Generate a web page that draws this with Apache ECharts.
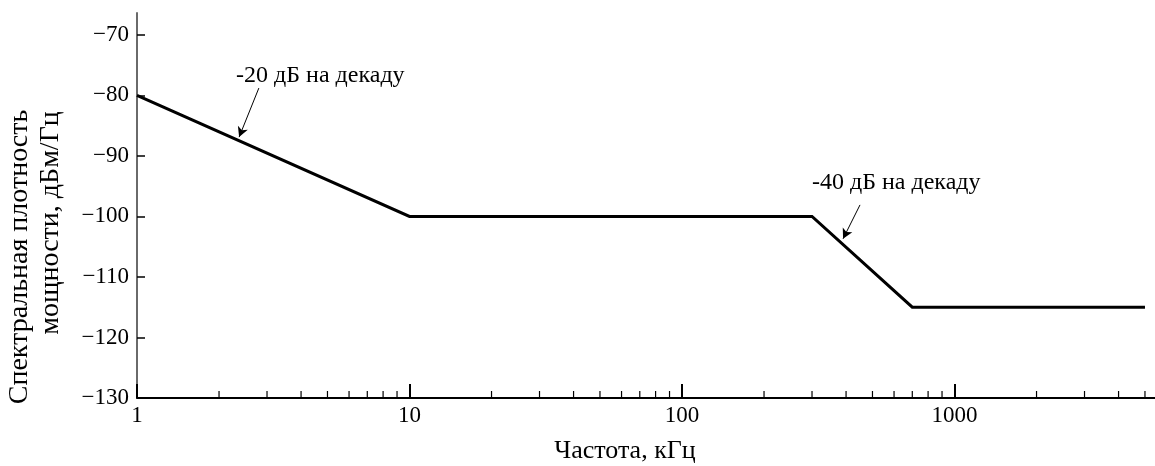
<!DOCTYPE html>
<html>
<head>
<meta charset="utf-8">
<script src="https://cdn.jsdelivr.net/npm/echarts@6/dist/echarts.min.js"></script>
<style>
  html, body { margin: 0; padding: 0; background: #fff; }
  #chart { width: 1155px; height: 466px; }
</style>
</head>
<body>
<div id="chart"></div>
<script>
// Piecewise spectral density: frequency (kHz) vs PSD (dBm/Hz)
const freq = [1, 10, 300, 700, 5000];
const psd = [-80, -100, -100, -115, -115];

// Axis ranges and labelled ticks
const yMin = -130;
const yMax = -66.4;
const yTicks = [-130, -120, -110, -100, -90, -80, -70];
const xMin = 1;
const xMax = 10000;

// Intermediate log ticks (2..9 within each decade)
const minorTicks = [
  2, 3, 4, 5, 6, 7, 8, 9,
  20, 30, 40, 50, 60, 70, 80, 90,
  200, 300, 400, 500, 600, 700, 800, 900,
  2000, 3000, 4000, 5000
];

// Slope annotations: text anchor and arrow (from -> to) in data units
const slopeNotes = [
  { text: '-20 дБ на декаду', at: [2.31, -76.8], from: [2.80, -78.8], to: [2.37, -86.9] },
  { text: '-40 дБ на декаду', at: [300, -94.5], from: [450, -98.1], to: [390, -103.7] }
];

const serif = '"Liberation Serif", "DejaVu Serif", serif';
const chart = echarts.init(document.getElementById('chart'));

const linePoints = freq.map((f, i) => [f, psd[i]]);

chart.setOption({
  animation: false,
  backgroundColor: '#fff',
  grid: { left: 137, top: 13, bottom: 68, right: -72, containLabel: false, outerBoundsMode: 'none' },
  xAxis: {
    type: 'log',
    logBase: 10,
    min: xMin,
    max: xMax,
    axisLine: { show: true, onZero: false, lineStyle: { color: '#000', width: 2 } },
    axisTick: { show: true, inside: true, length: 14, lineStyle: { color: '#000', width: 2 } },
    axisLabel: {
      color: '#000', fontFamily: serif, fontSize: 23, margin: 6,
      formatter: v => String(v)
    },
    splitLine: { show: false }
  },
  yAxis: {
    type: 'value',
    min: yMin,
    max: yMax,
    axisLine: { show: true, lineStyle: { color: '#6a6a6a', width: 2 } },
    axisTick: { show: true, inside: true, length: 8, customValues: yTicks, lineStyle: { color: '#000', width: 1.5 } },
    axisLabel: {
      color: '#000', fontFamily: serif, fontSize: 23, margin: 8,
      customValues: yTicks,
      formatter: v => (v < 0 ? '\u2212' + Math.abs(v) : String(v))
    },
    splitLine: { show: false }
  },
  graphic: [
    {
      type: 'text', x: 625, y: 451,
      style: { text: 'Частота, кГц', fontFamily: serif, fontSize: 26, fill: '#000', align: 'center', verticalAlign: 'middle' }
    },
    {
      type: 'text', x: 20, y: 257, rotation: Math.PI / 2,
      style: { text: 'Спектральная плотность', fontFamily: serif, fontSize: 28, fill: '#000', align: 'center', verticalAlign: 'middle' }
    },
    {
      type: 'text', x: 51, y: 223, rotation: Math.PI / 2,
      style: { text: 'мощности, дБм/Гц', fontFamily: serif, fontSize: 28, fill: '#000', align: 'center', verticalAlign: 'middle' }
    }
  ],
  series: [
    {
      type: 'line',
      data: linePoints,
      symbol: 'none',
      lineStyle: { color: '#000', width: 3, join: 'miter' },
      z: 3,
      markLine: {
        silent: true,
        symbol: ['none', 'arrow'],
        symbolSize: [8, 10],
        label: { show: false },
        lineStyle: { color: '#000', width: 1, type: 'solid' },
        data: slopeNotes.map(n => [{ coord: n.from }, { coord: n.to }])
      },
      markPoint: {
        silent: true,
        symbol: 'rect',
        symbolSize: 1,
        itemStyle: { color: 'rgba(0,0,0,0)' },
        label: {
          show: true, position: 'inside', align: 'left', verticalAlign: 'middle',
          color: '#000', fontFamily: serif, fontSize: 24,
          formatter: p => p.name
        },
        data: slopeNotes.map(n => ({ name: n.text, coord: n.at }))
      }
    },
    {
      // short intermediate ticks along the frequency axis
      type: 'custom',
      clip: false,
      silent: true,
      data: minorTicks.map(v => [v, yMin]),
      renderItem: (params, api) => {
        const p = api.coord([api.value(0), api.value(1)]);
        return {
          type: 'line',
          shape: { x1: p[0], y1: p[1], x2: p[0], y2: p[1] - 7 },
          style: { stroke: '#000', lineWidth: 1.2 }
        };
      },
      z: 4
    }
  ]
});
</script>
</body>
</html>
